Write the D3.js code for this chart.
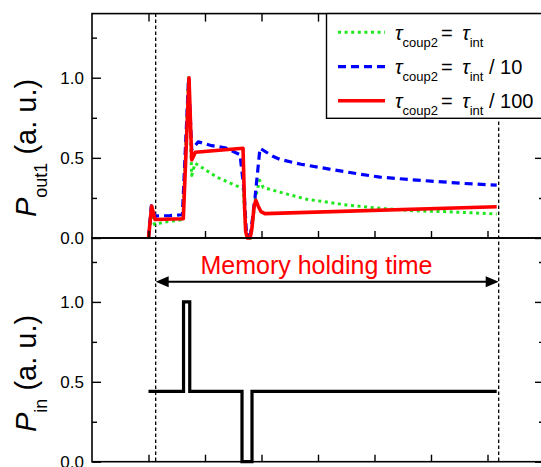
<!DOCTYPE html>
<html><head><meta charset="utf-8">
<script src="https://cdn.jsdelivr.net/npm/d3@7"></script>
<style>body{margin:0;background:#fff}svg{display:block}</style>
</head><body>
<svg id="c" width="541" height="467"></svg>
<script>
// ---- data ----
const tRed = [1.0, 1.056, 1.115, 1.616, 1.717, 1.765, 1.83, 2.673, 2.70, 2.72, 2.75, 2.80, 2.83, 2.87, 2.90, 2.94, 2.99, 3.06, 7.163];
const pRed = [0.0, 0.20, 0.115, 0.12, 1.0, 0.487, 0.535, 0.56, 0.2, 0.04, 0.0, 0.0, 0.06, 0.2, 0.235, 0.2, 0.165, 0.152, 0.195];

const tBlue = [1.0, 1.05, 1.115, 1.38, 1.60, 1.71, 1.765, 1.88, 2.12, 2.354, 2.62, 2.69, 2.735, 2.805, 2.885, 2.973, 3.2, 3.33, 3.7, 4.2, 4.8, 5.1, 5.6, 6.0, 6.6, 7.163];
const pBlue = [0.0, 0.20, 0.137, 0.14, 0.145, 1.0, 0.55, 0.60, 0.576, 0.563, 0.52, 0.3, 0.02, 0.02, 0.25, 0.56, 0.51, 0.49, 0.46, 0.43, 0.395, 0.38, 0.365, 0.355, 0.34, 0.33];

const tGreen = [1.0, 1.053, 1.106, 1.29, 1.61, 1.708, 1.765, 1.823, 1.88, 2.207, 2.56, 2.673, 2.717, 2.743, 2.814, 2.894, 2.965, 3.032, 3.386, 3.8, 4.508, 5.097, 5.687, 6.278, 7.163];
const pGreen = [0.0, 0.15, 0.085, 0.10, 0.115, 1.0, 0.39, 0.466, 0.455, 0.38, 0.325, 0.31, 0.08, 0.0, 0.0, 0.25, 0.36, 0.315, 0.28, 0.242, 0.206, 0.185, 0.17, 0.164, 0.15];

const tIn = [1.0, 1.62, 1.62, 1.73, 1.73, 2.655, 2.655, 2.832, 2.832, 7.163];
const pIn = [0.44, 0.44, 1.0, 1.0, 0.44, 0.44, 0.0, 0.0, 0.44, 0.44];

const markerTimes = [1.127, 7.198];
const xTicks = [1, 2, 3, 4, 5, 6, 7];
const yMajor = [0, 0.5, 1.0];
const yMinor = [0.25, 0.75, 1.25];
const yLabels = ["0.0", "0.5", "1.0"];
const legendLabels = ["", " / 10", " / 100"];
const arrowLabel = "Memory holding time";

// ---- layout ----
const svg = d3.select("#c");
const L = 92, R = 544, T = 13.6, M = 238, B = 461.7;
const x = d3.scaleLinear().domain([0, 8]).range([L, R]);
const yTop = d3.scaleLinear().domain([0, 1.4]).range([M, T]);
const yBot = d3.scaleLinear().domain([0, 1.4]).range([B, M]);
const FONT = "'Liberation Sans', Arial, sans-serif";

// dashed markers
markerTimes.forEach(t => {
  svg.append("line").attr("x1", x(t)).attr("x2", x(t)).attr("y1", T).attr("y2", B)
    .attr("stroke", "#000").attr("stroke-width", 1.3).attr("stroke-dasharray", "3.5,2.5");
});

// curves
const series = [
  {t: tGreen, p: pGreen, color: "#1ee81e", w: 3, dash: "3,3.6"},
  {t: tBlue, p: pBlue, color: "#0000ff", w: 3.2, dash: "8,5"},
  {t: tRed, p: pRed, color: "#ff0000", w: 3.6, dash: null}
];
const lineTop = d3.line().x(d => x(d[0])).y(d => yTop(d[1]));
series.forEach(s => {
  svg.append("path").datum(d3.zip(s.t, s.p)).attr("d", lineTop)
    .attr("fill", "none").attr("stroke", s.color).attr("stroke-width", s.w)
    .attr("stroke-linejoin", "round")
    .attr("stroke-dasharray", s.dash);
});

// input
const lineBot = d3.line().x(d => x(d[0])).y(d => yBot(d[1]));
svg.append("path").datum(d3.zip(tIn, pIn)).attr("d", lineBot)
  .attr("fill", "none").attr("stroke", "#000").attr("stroke-width", 3.2)
  .attr("stroke-linejoin", "miter");

// frames
[[T, M], [M, B]].forEach(([a, b]) => {
  svg.append("rect").attr("x", L).attr("y", a).attr("width", R - L).attr("height", b - a)
    .attr("fill", "none").attr("stroke", "#000").attr("stroke-width", 1.6);
});

function styleAxis(g) {
  g.select(".domain").remove();
  g.selectAll(".tick line").attr("stroke", "#000").attr("stroke-width", 1.4);
  g.selectAll("text").attr("font-family", FONT).attr("font-size", 17).attr("fill", "#000");
}
[yTop, yBot].forEach(y => {
  svg.append("g").attr("transform", `translate(${L},0)`)
    .call(d3.axisLeft(y).tickValues(yMajor).tickFormat((d, i) => yLabels[i]).tickSizeInner(-9).tickSizeOuter(0).tickPadding(8))
    .call(styleAxis);
  svg.append("g").attr("transform", `translate(${L},0)`)
    .call(d3.axisLeft(y).tickValues(yMinor).tickFormat("").tickSizeInner(-5).tickSizeOuter(0))
    .call(styleAxis);
  svg.append("g").attr("transform", `translate(${R},0)`)
    .call(d3.axisRight(y).tickValues(yMajor).tickFormat("").tickSizeInner(-9).tickSizeOuter(0))
    .call(styleAxis);
  svg.append("g").attr("transform", `translate(${R},0)`)
    .call(d3.axisRight(y).tickValues(yMinor).tickFormat("").tickSizeInner(-5).tickSizeOuter(0))
    .call(styleAxis);
});
svg.append("g").attr("transform", `translate(0,${T})`)
  .call(d3.axisTop(x).tickValues(xTicks).tickFormat("").tickSizeInner(-8).tickSizeOuter(0)).call(styleAxis);
svg.append("g").attr("transform", `translate(0,${M})`)
  .call(d3.axisBottom(x).tickValues(xTicks).tickFormat("").tickSizeInner(-7).tickSizeOuter(0)).call(styleAxis);
svg.append("g").attr("transform", `translate(0,${B})`)
  .call(d3.axisBottom(x).tickValues(xTicks).tickFormat("").tickSizeInner(-7).tickSizeOuter(0)).call(styleAxis);

// axis titles
function yTitle(yPos, sub) {
  const t = svg.append("text").attr("transform", `translate(36,${yPos}) rotate(-90)`)
    .attr("font-family", FONT).attr("font-size", 29).attr("fill", "#000");
  t.append("tspan").attr("font-style", "italic").text("P");
  t.append("tspan").attr("font-size", 18).attr("dy", 10.5).text(sub);
  t.append("tspan").attr("dy", -10.5).text("\u00a0(a. u.)");
}
yTitle(217, "out1");
yTitle(432, "in");

// legend
svg.append("rect").attr("x", 326.5).attr("y", T).attr("width", 240).attr("height", 118.3 - T)
  .attr("fill", "#fff").attr("stroke", "#000").attr("stroke-width", 1.4);
const legY = [32.3, 66.7, 100.7];
series.forEach((s, i) => {
  svg.append("line").attr("x1", 338).attr("x2", 385).attr("y1", legY[i]).attr("y2", legY[i])
    .attr("stroke", s.color).attr("stroke-width", s.w).attr("stroke-dasharray", s.dash);
  const t = svg.append("text").attr("x", 395).attr("y", legY[i] + 7.4)
    .attr("font-family", FONT).attr("font-size", 20).attr("fill", "#000");
  t.append("tspan").attr("font-style", "italic").text("\u03c4");
  t.append("tspan").attr("font-size", 13).attr("dy", 7).text("coup2");
  t.append("tspan").attr("dy", -7).attr("dx", 3).text("= ");
  t.append("tspan").attr("font-style", "italic").attr("dx", 4).text("\u03c4");
  t.append("tspan").attr("font-size", 13).attr("dy", 7).text("int");
  t.append("tspan").attr("dy", -7).text(legendLabels[i]);
});

// memory holding arrow
const ay = 281.7;
const ax1 = x(markerTimes[0]), ax2 = x(markerTimes[1]);
svg.append("line").attr("x1", ax1 + 8).attr("x2", ax2 - 8).attr("y1", ay).attr("y2", ay)
  .attr("stroke", "#000").attr("stroke-width", 2);
svg.append("path").attr("d", `M${ax1},${ay}L${ax1 + 13},${ay - 5.5}L${ax1 + 13},${ay + 5.5}Z`).attr("fill", "#000");
svg.append("path").attr("d", `M${ax2},${ay}L${ax2 - 13},${ay - 5.5}L${ax2 - 13},${ay + 5.5}Z`).attr("fill", "#000");
svg.append("text").attr("x", 316.5).attr("y", 274).attr("text-anchor", "middle")
  .attr("font-family", FONT).attr("font-size", 25).attr("fill", "#ff0000").text(arrowLabel);
</script>
</body></html>
